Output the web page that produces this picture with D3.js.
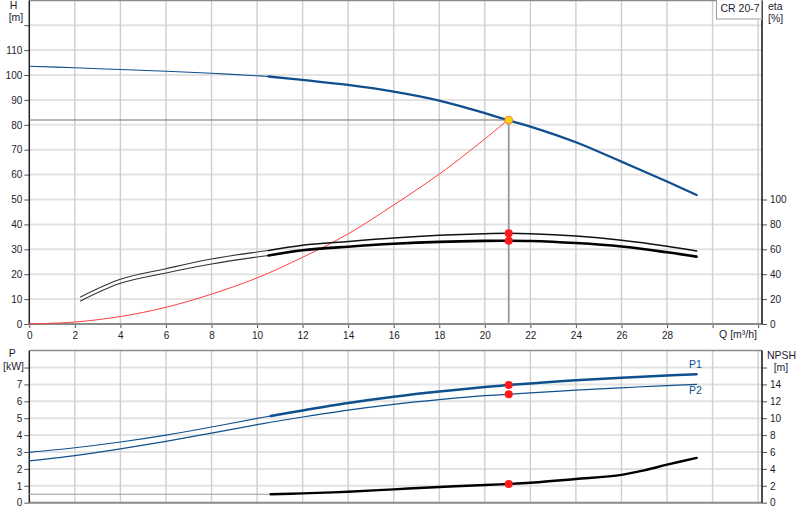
<!DOCTYPE html>
<html><head><meta charset="utf-8">
<script src="https://cdn.jsdelivr.net/npm/d3@7"></script>
<style>
html,body{margin:0;padding:0;background:#fff;}
svg{display:block;font-family:"Liberation Sans",Arial,sans-serif;}
</style></head>
<body>
<svg id="c" width="800" height="520"></svg>
<script>
// ---------- data ----------
const qTicks = [0,2,4,6,8,10,12,14,16,18,20,22,24,26,28];
const hTicks = [0,10,20,30,40,50,60,70,80,90,100,110];
const etaTicks = [0,20,40,60,80,100];
const pTicks = [0,1,2,3,4,5,6,7];
const npshTicks = [0,2,4,6,8,10,12,14];

const hQ   = [0,2,4,6,8,10,10.5,12,14,16,18,20,21,22,24,26,28,29.3];
const hVal = [103.5,102.9,102.2,101.5,100.7,99.7,99.4,98.0,96.0,93.3,89.7,84.7,81.9,79.3,73.0,65.2,57.2,51.8];

const etaQ    = [2.25,4,6,8,10,10.5,12,14,16,18,20,21,22,24,26,28,29.3];
const eta1Val = [21.7,35.9,44.4,52.2,57.8,59.0,63.3,66.3,69.1,71.2,72.5,72.8,72.5,70.6,67.2,62.4,58.6];
const eta2Val = [18.5,32.7,41.0,48.2,53.8,55.0,59.2,62.1,64.4,66.0,66.8,66.9,66.7,65.0,62.2,57.6,54.1];

const sysQ   = [0,2,4,6,8,10,12,14,16,18,20,21];
const sysVal = [0,0.8,3.0,6.7,12.0,18.5,26.8,36.2,47.8,60.2,74.3,81.9];

const pQ    = [0,2,4,6,8,10,10.6,12,14,16,18,20,21,22,24,26,28,29.3];
const p1Val = [2.98,3.25,3.59,4.0,4.48,4.99,5.13,5.46,5.9,6.27,6.58,6.84,6.96,7.06,7.24,7.39,7.52,7.6];
const p2Val = [2.47,2.78,3.18,3.63,4.12,4.62,4.76,5.07,5.48,5.82,6.1,6.33,6.41,6.5,6.66,6.8,6.93,7.0];

const npshFlatQ = [0,10.6];
const npshFlatVal = [1.0,1.0];
const npshQ   = [10.6,12,14,16,18,20,21,22,24,26,27,28,29.3];
const npshVal = [1.0,1.1,1.3,1.58,1.86,2.09,2.21,2.36,2.8,3.3,3.83,4.5,5.3];

const dutyQ = 21.05;
const dutyH = 81.9;
const dutyEta1 = 72.8, dutyEta2 = 66.9, dutyP1 = 6.96, dutyP2 = 6.41, dutyNpsh = 2.21;
const thickFrom = 10.5;

// ---------- layout ----------
const svg = d3.select("#c");
const X0 = 29.3, X1 = 762;
const x = d3.scaleLinear().domain([0,32.17]).range([X0,X1]);
const yH = d3.scaleLinear().domain([0,130]).range([324,0.3]);
const yEta = d3.scaleLinear().domain([0,260]).range([324,0.3]);
const yP = d3.scaleLinear().domain([0,9]).range([502.7,350.6]);
const yN = d3.scaleLinear().domain([0,18]).range([502.7,350.6]);

const txt = "#1c1c30";
const blue = "#0f4f8e";

function grid(yScale, yVals, top, bottom){
  const g = svg.append("g");
  g.selectAll(".h").data(yVals).join("line")
    .attr("x1",X0).attr("x2",X1).attr("y1",d=>yScale(d)).attr("y2",d=>yScale(d))
    .attr("stroke","#e3e3e3").attr("stroke-width",2);
  g.selectAll(".v").data(d3.range(2,33,2)).join("line")
    .attr("x1",d=>x(d)).attr("x2",d=>x(d)).attr("y1",top).attr("y2",bottom)
    .attr("stroke","#cfcfcf").attr("stroke-width",1.4);
}
grid(yH, d3.range(10,130,10), 0, 324);
grid(yP, d3.range(1,9,1), 350.6, 502.7);

function frame(top,bottom){
  svg.append("line").attr("x1",X0).attr("x2",X1).attr("y1",top).attr("y2",top).attr("stroke","#8a8a8a").attr("stroke-width",1.5);
  svg.append("line").attr("x1",X0).attr("x2",X1).attr("y1",bottom).attr("y2",bottom).attr("stroke","#8a8a8a").attr("stroke-width",2);
  svg.append("line").attr("x1",X0).attr("x2",X0).attr("y1",top).attr("y2",bottom).attr("stroke","#222").attr("stroke-width",1.5);
  svg.append("line").attr("x1",X1).attr("x2",X1).attr("y1",top).attr("y2",bottom).attr("stroke","#111").attr("stroke-width",1.5);
}

function styleAxis(g){
  g.select(".domain").remove();
  g.selectAll("line").attr("stroke","#555");
  g.selectAll("text").attr("fill",txt).style("font-size","10px").style("font-family","Liberation Sans, Arial, sans-serif");
}
function leftAxis(scale, ticks, extra){
  styleAxis(svg.append("g").attr("transform",`translate(${X0},0)`)
    .call(d3.axisLeft(scale).tickValues(ticks.concat(extra)).tickSize(5).tickPadding(2)
      .tickFormat(d=>ticks.includes(d)?d:"")));
}
function rightAxis(scale, ticks, extra){
  styleAxis(svg.append("g").attr("transform",`translate(${X1},0)`)
    .call(d3.axisRight(scale).tickValues(ticks.concat(extra)).tickSize(5).tickPadding(3)
      .tickFormat(d=>ticks.includes(d)?d:"")));
}
leftAxis(yH, hTicks, [120]);
rightAxis(yEta, etaTicks, []);
leftAxis(yP, pTicks, [8]);
rightAxis(yN, npshTicks, [16]);

styleAxis(svg.append("g").attr("transform","translate(0,324)")
  .call(d3.axisBottom(x).tickValues(qTicks.concat([30,32])).tickSize(4).tickPadding(4)
    .tickFormat(d=>qTicks.includes(d)?d:"")));

frame(0.5,324);
frame(350.6,502.7);

// ---------- curves ----------
function pts(qs, vs){ return qs.map((q,i)=>[q,vs[i]]); }
function draw(data, ys, color, w){
  const line = d3.line().x(d=>x(d[0])).y(d=>ys(d[1])).curve(d3.curveCatmullRom.alpha(0.5));
  svg.append("path").datum(data).attr("d",line).attr("fill","none")
    .attr("stroke",color).attr("stroke-width",w).attr("stroke-linejoin","round").attr("stroke-linecap","round");
}
function split(data, at){ return [data.filter(d=>d[0]<=at), data.filter(d=>d[0]>=at)]; }

draw(pts(sysQ,sysVal), yH, "#ff4040", 1);

const e1 = split(pts(etaQ,eta1Val), thickFrom);
draw(e1[0], yEta, "#333", 1.1); draw(e1[1], yEta, "#111", 1.5);
const e2 = split(pts(etaQ,eta2Val), thickFrom);
draw(e2[0], yEta, "#333", 1.1); draw(e2[1], yEta, "#000", 2.6);

const hs = split(pts(hQ,hVal), thickFrom);
draw(hs[0], yH, blue, 1.1); draw(hs[1], yH, blue, 2.3);

svg.append("line").attr("x1",X0).attr("x2",x(dutyQ)).attr("y1",yH(dutyH)).attr("y2",yH(dutyH))
  .attr("stroke","#707070").attr("stroke-width",1.1);
svg.append("line").attr("x1",x(dutyQ)).attr("x2",x(dutyQ)).attr("y1",yH(dutyH)).attr("y2",yH(0))
  .attr("stroke","#9a9a9a").attr("stroke-width",1.8);

const p1 = split(pts(pQ,p1Val), 10.6);
draw(p1[0], yP, blue, 1.1); draw(p1[1], yP, blue, 2.5);
draw(pts(pQ,p2Val), yP, blue, 1.2);

draw(pts(npshFlatQ,npshFlatVal), yN, "#9a9a9a", 1.2);
draw(pts(npshQ,npshVal), yN, "#000", 2.4);

[[yEta,dutyEta1],[yEta,dutyEta2],[yP,dutyP1],[yP,dutyP2],[yN,dutyNpsh]].forEach(([s,v])=>{
  svg.append("circle").attr("cx",x(dutyQ)).attr("cy",s(v)).attr("r",4).attr("fill","#ff1a1a");
});
svg.append("circle").attr("cx",x(dutyQ)).attr("cy",yH(dutyH)).attr("r",3.8)
  .attr("fill","#ffd400").attr("stroke","#f08a4b").attr("stroke-width",1.2);

// ---------- labels ----------
function label(t,xx,yy,anchor,color,size){
  svg.append("text").attr("x",xx).attr("y",yy).attr("text-anchor",anchor||"start")
    .attr("fill",color||txt).style("font-size",(size||10.5)+"px").text(t);
}
label("H",13.5,9,"middle");
label("[m]",16,21,"middle");
label("eta",768,9.5);
label("[%]",768,21.5);
label("P",12.3,357,"middle");
label("[kW]",13.5,370,"middle");
label("NPSH",767,358.5);
label("[m]",781,370.5,"middle");
label("Q [m³/h]",757,337.5,"end");
label("P1",689,367.5,"start",blue);
label("P2",689,393.5,"start",blue);

svg.append("rect").attr("x",716.5).attr("y",-1).attr("width",45).attr("height",20)
  .attr("fill","#fff").attr("stroke","#9a9a9a").attr("stroke-width",1);
svg.append("line").attr("x1",717).attr("x2",762).attr("y1",19.5).attr("y2",19.5).attr("stroke","#cfcfcf").attr("stroke-width",1);
label("CR 20-7",720.5,11.5,"start",txt,10.5);
</script>
</body></html>
